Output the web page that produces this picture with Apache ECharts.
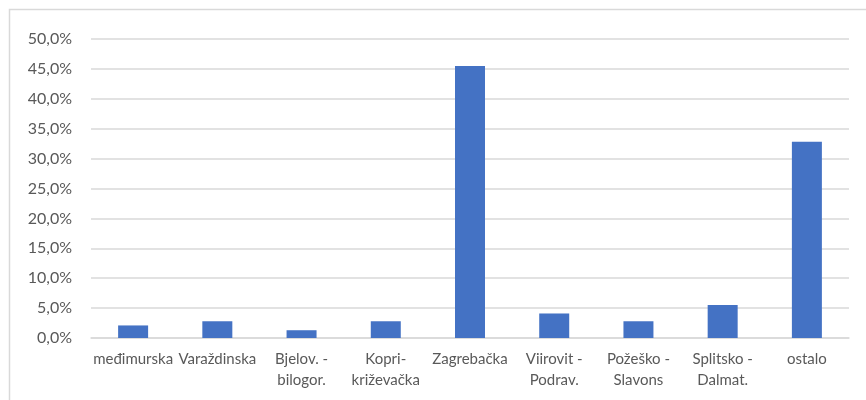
<!DOCTYPE html>
<html>
<head>
<meta charset="utf-8">
<script src="https://cdn.jsdelivr.net/npm/echarts@6/dist/echarts.min.js"></script>
<style>
html, body { margin: 0; padding: 0; background: #fff; }
#chart { width: 866px; height: 400px; }
</style>
</head>
<body>
<div id="chart"></div>
<script>
// kategorije i udjeli (%)
const categories = [
    "međimurska",
    "Varaždinska",
    "Bjelov. -\nbilogor.",
    "Kopri-\nkriževačka",
    "Zagrebačka",
    "Viirovit -\nPodrav.",
    "Požeško -\nSlavons",
    "Splitsko -\nDalmat.",
    "ostalo",
];
const shares = [2.1, 2.8, 1.3, 2.8, 45.5, 4.1, 2.8, 5.5, 32.8];
const yTicks = { min: 0, max: 50, step: 5 };

const chart = echarts.init(document.getElementById("chart"));
const labelColor = "#595959";
const fontFamily = "Lato, 'Liberation Sans', sans-serif";

const option = {
    animation: false,
    backgroundColor: "#fff",
    graphic: [
        {
            type: "rect",
            shape: { x: 9.5, y: 9.5, width: 900, height: 500 },
            style: { fill: "none", stroke: "#d9d9d9", lineWidth: 1.5 },
            silent: true,
        },
    ],
    grid: {
        left: 91,
        right: 17,
        top: 39,
        bottom: 62,
        containLabel: false,
    },
    xAxis: {
        type: "category",
        data: categories,
        axisTick: { show: false },
        axisLine: { show: true, lineStyle: { color: "#d9d9d9", width: 1.5 } },
        axisLabel: {
            interval: 0,
            margin: 11,
            color: labelColor,
            fontSize: 15,
            lineHeight: 21,
            fontFamily: fontFamily,
        },
    },
    yAxis: {
        type: "value",
        min: yTicks.min,
        max: yTicks.max,
        interval: yTicks.step,
        axisLine: { show: false },
        axisTick: { show: false },
        splitLine: { lineStyle: { color: "#d9d9d9", width: 1.5 } },
        axisLabel: {
            margin: 19,
            color: labelColor,
            fontSize: 16,
            fontFamily: fontFamily,
            formatter: function (v) {
                return v.toFixed(1).replace(".", ",") + "%";
            },
        },
    },
    series: [
        {
            type: "bar",
            data: shares,
            barWidth: 30,
            itemStyle: { color: "#4472C4" },
        },
    ],
};
chart.setOption(option);
</script>
</body>
</html>
